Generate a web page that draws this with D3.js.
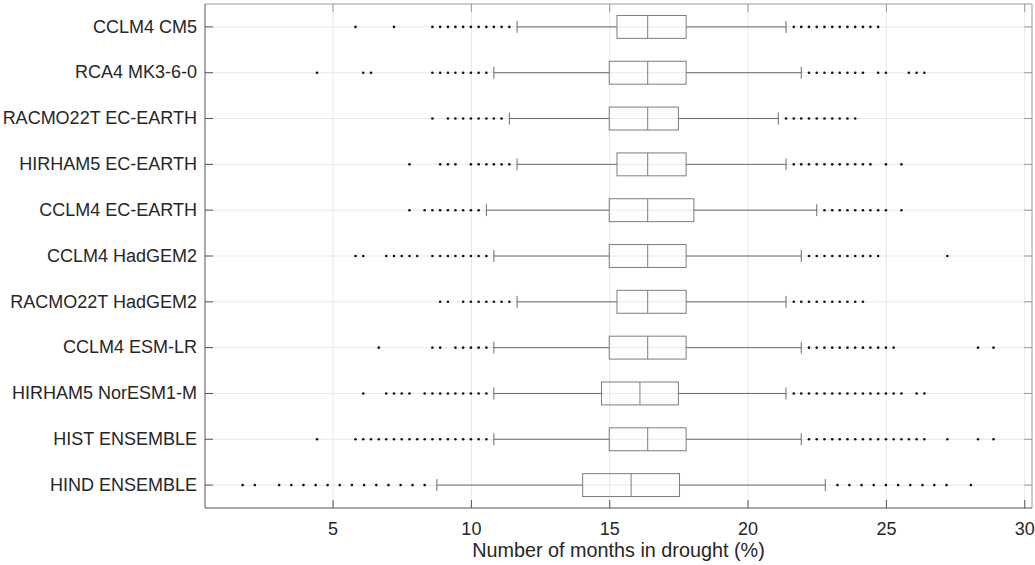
<!DOCTYPE html>
<html>
<head>
<meta charset="utf-8">
<script src="https://cdn.jsdelivr.net/npm/d3@7"></script>
<style>
  body { margin: 0; background: #fff; }
  svg { font-family: "Liberation Sans", Arial, sans-serif; }
  .axis text { font-size: 18px; fill: #262626; }
  .axis path { display: none; }
  .grid line { stroke: #e8e8e8; stroke-width: 1; }
  .grid path { display: none; }
</style>
</head>
<body>
<svg id="chart" width="1035" height="565"></svg>
<script>
// chart data (percent of months in drought)
var categories = [
    'CCLM4 CM5', 'RCA4 MK3-6-0', 'RACMO22T EC-EARTH', 'HIRHAM5 EC-EARTH',
    'CCLM4 EC-EARTH', 'CCLM4 HadGEM2', 'RACMO22T HadGEM2', 'CCLM4 ESM-LR',
    'HIRHAM5 NorESM1-M', 'HIST ENSEMBLE', 'HIND ENSEMBLE'
];
var q1          = [15.28, 15.00, 15.00, 15.28, 15.00, 15.00, 15.28, 15.00, 14.72, 15.00, 14.04];
var medians     = [16.39, 16.39, 16.39, 16.39, 16.39, 16.39, 16.39, 16.39, 16.11, 16.39, 15.79];
var q3          = [17.78, 17.78, 17.50, 17.78, 18.06, 17.78, 17.78, 17.78, 17.50, 17.78, 17.54];
var whiskerLow  = [11.67, 10.83, 11.39, 11.67, 10.56, 10.83, 11.67, 10.83, 10.83, 10.83, 8.77];
var whiskerHigh = [21.39, 21.94, 21.11, 21.39, 22.50, 21.94, 21.39, 21.94, 21.39, 21.94, 22.81];
var outliers = [
    [5.83, 7.22, 8.61, 8.89, 9.17, 9.44, 9.72, 10.00, 10.28, 10.56, 10.83, 11.11, 11.39,
     21.67, 21.94, 22.22, 22.50, 22.78, 23.06, 23.33, 23.61, 23.89, 24.17, 24.44, 24.72],
    [4.44, 6.11, 6.39, 8.61, 8.89, 9.17, 9.44, 9.72, 10.00, 10.28, 10.56,
     22.22, 22.50, 22.78, 23.06, 23.33, 23.61, 23.89, 24.17, 24.72, 25.00, 25.83, 26.11, 26.39],
    [8.61, 9.17, 9.44, 9.72, 10.00, 10.28, 10.56, 10.83, 11.11,
     21.39, 21.67, 21.94, 22.22, 22.50, 22.78, 23.06, 23.33, 23.61, 23.89],
    [7.78, 8.89, 9.17, 9.44, 10.00, 10.28, 10.56, 10.83, 11.11, 11.39,
     21.67, 21.94, 22.22, 22.50, 22.78, 23.06, 23.33, 23.61, 23.89, 24.17, 24.44, 25.00, 25.56],
    [7.78, 8.33, 8.61, 8.89, 9.17, 9.44, 9.72, 10.00, 10.28,
     22.78, 23.06, 23.33, 23.61, 23.89, 24.17, 24.44, 24.72, 25.00, 25.56],
    [5.83, 6.11, 6.94, 7.22, 7.50, 7.78, 8.06, 8.61, 8.89, 9.17, 9.44, 9.72, 10.00, 10.28, 10.56,
     22.22, 22.50, 22.78, 23.06, 23.33, 23.61, 23.89, 24.17, 24.44, 24.72, 27.22],
    [8.89, 9.17, 9.72, 10.00, 10.28, 10.56, 10.83, 11.11, 11.39,
     21.67, 21.94, 22.22, 22.50, 22.78, 23.06, 23.33, 23.61, 23.89, 24.17],
    [6.67, 8.61, 8.89, 9.44, 9.72, 10.00, 10.28, 10.56,
     22.22, 22.50, 22.78, 23.06, 23.33, 23.61, 23.89, 24.17, 24.44, 24.72, 25.00, 25.28, 28.33, 28.89],
    [6.11, 6.94, 7.22, 7.50, 7.78, 8.33, 8.61, 8.89, 9.17, 9.44, 9.72, 10.00, 10.28, 10.56,
     21.67, 21.94, 22.22, 22.50, 22.78, 23.06, 23.33, 23.61, 23.89, 24.17, 24.44, 24.72, 25.00,
     25.28, 25.56, 26.11, 26.39],
    [4.44, 5.83, 6.11, 6.39, 6.67, 6.94, 7.22, 7.50, 7.78, 8.06, 8.33, 8.61, 8.89, 9.17, 9.44,
     9.72, 10.00, 10.28, 10.56,
     22.22, 22.50, 22.78, 23.06, 23.33, 23.61, 23.89, 24.17, 24.44, 24.72, 25.00, 25.28, 25.56,
     25.83, 26.11, 26.39, 27.22, 28.33, 28.89],
    [1.75, 2.19, 3.07, 3.51, 3.95, 4.39, 4.82, 5.26, 5.70, 6.14, 6.58, 7.02, 7.46, 7.89, 8.33,
     23.25, 23.68, 24.12, 24.56, 25.00, 25.44, 25.88, 26.32, 26.75, 27.19, 28.07]
];
var xTicks = [5, 10, 15, 20, 25, 30];
var xDomain = [0.39, 30.28];
var xTitle = 'Number of months in drought (%)';

var svg = d3.select('#chart');
var width = +svg.attr('width');
var height = +svg.attr('height');
var margin = {top: 4, right: 3, bottom: 57, left: 205};
var x0 = margin.left, x1 = width - margin.right;
var y0 = margin.top, y1 = height - margin.bottom;

var x = d3.scaleLinear().domain(xDomain).range([x0, x1]);
var y = d3.scaleBand().domain(categories).range([y0, y1]).padding(0);
var bw = y.bandwidth();
function cy(c) { return y(c) + bw / 2; }

// grid
svg.append('g')
    .attr('class', 'grid')
    .attr('transform', 'translate(0,' + y1 + ')')
    .call(d3.axisBottom(x).tickValues(xTicks).tickSize(-(y1 - y0)).tickFormat(''));
svg.append('g').attr('class', 'grid')
  .selectAll('line')
    .data(categories)
  .enter()
  .append('line')
    .attr('x1', x0).attr('x2', x1)
    .attr('y1', cy).attr('y2', cy);

// frame
var frame = svg.append('g');
frame.append('line').attr('x1', x0).attr('x2', x1).attr('y1', y0).attr('y2', y0).attr('stroke', '#9a9a9a');
frame.append('line').attr('x1', x1).attr('x2', x1).attr('y1', y0).attr('y2', y1).attr('stroke', '#9a9a9a');
frame.append('line').attr('x1', x0).attr('x2', x1).attr('y1', y1).attr('y2', y1).attr('stroke', '#555');
frame.append('line').attr('x1', x0).attr('x2', x0).attr('y1', y0).attr('y2', y1).attr('stroke', '#555');

// axes (ticks point inward)
var xAxis = svg.append('g')
    .attr('class', 'axis')
    .attr('transform', 'translate(0,' + y1 + ')')
    .call(d3.axisBottom(x).tickValues(xTicks).tickSizeInner(-8).tickSizeOuter(0).tickPadding(14));
xAxis.selectAll('line').attr('stroke', '#555');

var xAxisTop = svg.append('g')
    .attr('class', 'axis')
    .attr('transform', 'translate(0,' + y0 + ')')
    .call(d3.axisTop(x).tickValues(xTicks).tickSizeInner(-8).tickSizeOuter(0).tickFormat(''));
xAxisTop.selectAll('line').attr('stroke', '#9a9a9a');

var yAxis = svg.append('g')
    .attr('class', 'axis')
    .attr('transform', 'translate(' + x0 + ',0)')
    .call(d3.axisLeft(y).tickSizeInner(-8).tickSizeOuter(0).tickPadding(8));
yAxis.selectAll('line').attr('stroke', '#555');

var yAxisRight = svg.append('g')
    .attr('class', 'axis')
    .attr('transform', 'translate(' + x1 + ',0)')
    .call(d3.axisRight(y).tickSizeInner(-8).tickSizeOuter(0).tickFormat(''));
yAxisRight.selectAll('line').attr('stroke', '#9a9a9a');

svg.append('text')
    .attr('x', (x0 + x1) / 2)
    .attr('y', 557)
    .attr('text-anchor', 'middle')
    .style('font-size', '19.8px')
    .style('fill', '#262626')
    .text(xTitle);

// boxes
var rows = categories.map(function (c, i) {
    return {name: c, q1: q1[i], med: medians[i], q3: q3[i],
            lo: whiskerLow[i], hi: whiskerHigh[i], out: outliers[i]};
});

var boxH = bw * 0.5;
var capH = bw * 0.26;
var g = svg.append('g');

var row = g.selectAll('.row')
    .data(rows)
  .enter()
  .append('g')
    .attr('class', 'row');

row.append('line')
    .attr('x1', function (d) { return x(d.lo); })
    .attr('x2', function (d) { return x(d.q1); })
    .attr('y1', function (d) { return cy(d.name); })
    .attr('y2', function (d) { return cy(d.name); })
    .attr('stroke', '#6a6a6a');
row.append('line')
    .attr('x1', function (d) { return x(d.q3); })
    .attr('x2', function (d) { return x(d.hi); })
    .attr('y1', function (d) { return cy(d.name); })
    .attr('y2', function (d) { return cy(d.name); })
    .attr('stroke', '#6a6a6a');
['lo', 'hi'].forEach(function (k) {
    row.append('line')
        .attr('x1', function (d) { return x(d[k]); })
        .attr('x2', function (d) { return x(d[k]); })
        .attr('y1', function (d) { return cy(d.name) - capH / 2; })
        .attr('y2', function (d) { return cy(d.name) + capH / 2; })
        .attr('stroke', '#6a6a6a');
});
row.append('rect')
    .attr('x', function (d) { return x(d.q1); })
    .attr('width', function (d) { return x(d.q3) - x(d.q1); })
    .attr('y', function (d) { return cy(d.name) - boxH / 2; })
    .attr('height', boxH)
    .attr('fill', 'none')
    .attr('stroke', '#7d7d7d');
row.append('line')
    .attr('x1', function (d) { return x(d.med); })
    .attr('x2', function (d) { return x(d.med); })
    .attr('y1', function (d) { return cy(d.name) - boxH / 2; })
    .attr('y2', function (d) { return cy(d.name) + boxH / 2; })
    .attr('stroke', '#7d7d7d');

row.selectAll('circle')
    .data(function (d) { return d.out.map(function (v) { return {name: d.name, v: v}; }); })
  .enter()
  .append('circle')
    .attr('cx', function (d) { return x(d.v); })
    .attr('cy', function (d) { return cy(d.name); })
    .attr('r', 1.3)
    .attr('fill', '#111');
</script>
</body>
</html>
